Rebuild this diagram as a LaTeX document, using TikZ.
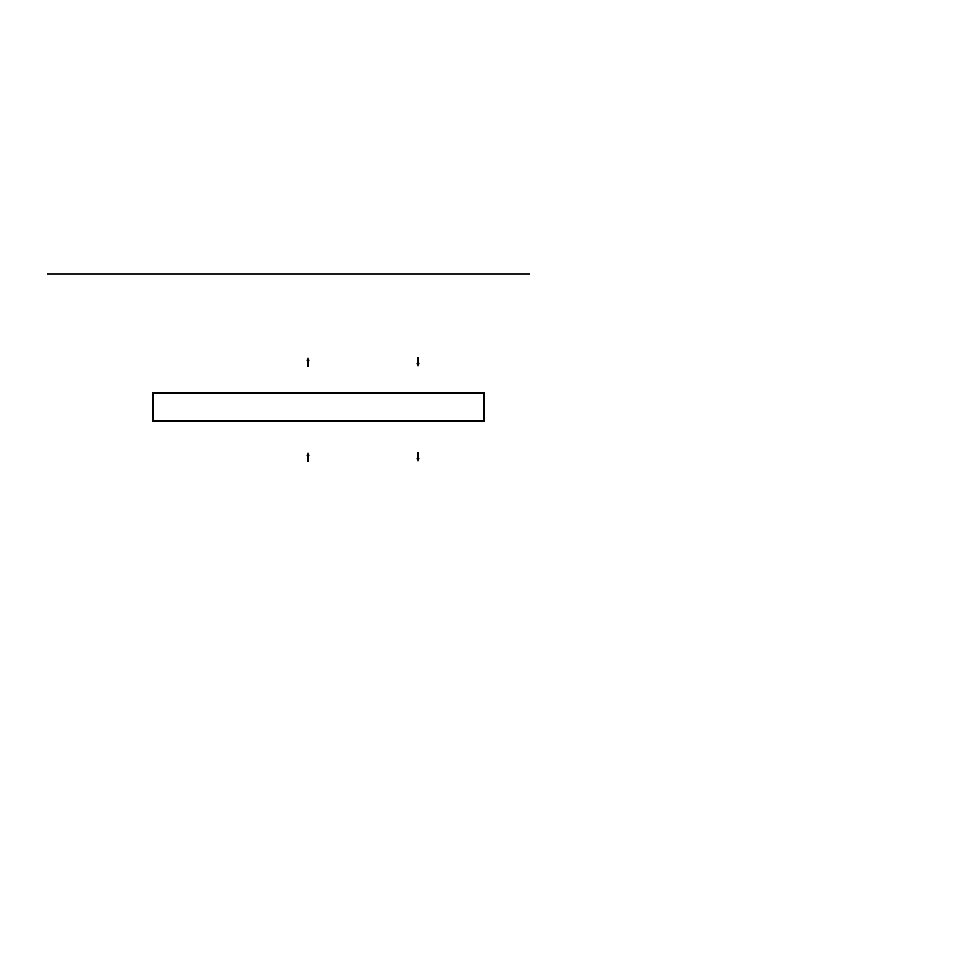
\documentclass[tikz,border=0pt]{standalone}
\usetikzlibrary{arrows.meta}
\begin{document}
\begin{tikzpicture}[x=0.75pt,y=-0.75pt,
  rule/.style={line width=0.8pt,black!90},
  framebox/.style={draw,line width=0.8pt,minimum width=331*0.75pt,minimum height=28*0.75pt,inner sep=0pt},
  smallarrow/.style={line width=0.9pt,-{Stealth[length=3pt,width=2.6pt]}}]
\useasboundingbox (0,0) rectangle (954,954);
\coordinate (rl) at (47,274);
\coordinate (rr) at (530,274);
\draw[rule] (rl) -- (rr);
\node[framebox] (box) at (318.5,407) {};
\coordinate (a1s) at (308,367);
\coordinate (a1e) at (308,357);
\coordinate (a2s) at (418,357);
\coordinate (a2e) at (418,367);
\coordinate (a3s) at (308,462);
\coordinate (a3e) at (308,452);
\coordinate (a4s) at (418,452);
\coordinate (a4e) at (418,462);
\draw[smallarrow] (a1s) -- (a1e);
\draw[smallarrow] (a2s) -- (a2e);
\draw[smallarrow] (a3s) -- (a3e);
\draw[smallarrow] (a4s) -- (a4e);
\end{tikzpicture}
\end{document}
